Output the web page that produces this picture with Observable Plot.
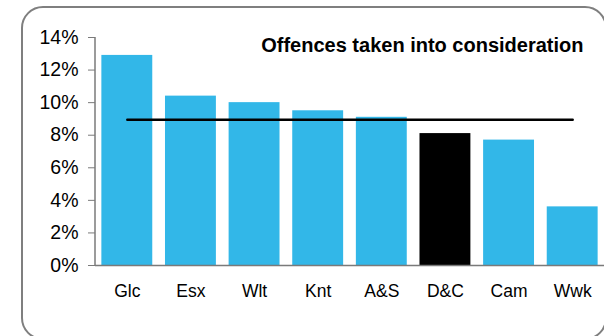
<!DOCTYPE html>
<html>
<head>
<meta charset="utf-8">
<script src="https://cdn.jsdelivr.net/npm/d3@7"></script>
<script src="https://cdn.jsdelivr.net/npm/@observablehq/plot@0.6"></script>
<style>
  html, body { margin: 0; padding: 0; background: #fff; overflow: hidden; }
  #wrap { position: relative; width: 604px; height: 336px; overflow: hidden; }
  #frame { position: absolute; left: 21px; top: 6px; width: 586px; height: 334px;
           border: 2px solid #7f7f7f; border-radius: 22px; box-sizing: border-box; }
  #chart { position: absolute; left: 0; top: 0; }
</style>
</head>
<body>
<div id="wrap"><div id="frame"></div><div id="chart"></div></div>
<script>
const categories = ["Glc", "Esx", "Wlt", "Knt", "A&S", "D&C", "Cam", "Wwk"];
const values = [12.9, 10.4, 10.0, 9.5, 9.1, 8.1, 7.7, 3.6];
const highlighted = ["D&C"];
const average = 8.95;
const yTicks = [0, 2, 4, 6, 8, 10, 12, 14];
const title = "Offences taken into consideration";

const data = categories.map((c, i) => ({ cat: c, value: values[i], hi: highlighted.includes(c) }));
const avgData = categories.map(c => ({ cat: c, value: average }));

const font = "Liberation Sans, Arial, sans-serif";
const chart = Plot.plot({
  width: 604,
  height: 336,
  marginTop: 37,
  marginBottom: 71,
  marginLeft: 95,
  marginRight: 0,
  style: { fontFamily: font, background: "transparent", overflow: "visible" },
  x: { domain: categories, paddingInner: 0.2, paddingOuter: 0.1, round: false, label: null },
  y: { domain: [0, 14], label: null },
  marks: [
    Plot.barY(data, { x: "cat", y: "value", fill: d => d.hi ? "#000000" : "#32b7e8" }),
    Plot.ruleY([0], { stroke: "#7a7a7a", strokeWidth: 1.5 }),
    Plot.lineY(avgData, { x: "cat", y: "value", stroke: "#000", strokeWidth: 2.5 }),
    Plot.axisY({ ticks: yTicks, tickFormat: d => d + "%", tickSize: 7, tickPadding: 10,
                 stroke: "#7a7a7a", fontSize: 19.5, color: "#000", label: null }),
    Plot.axisX({ tickSize: 0, tickPadding: 19, fontSize: 17.5, label: null }),
    Plot.text([title], { frameAnchor: "top-right", dx: -21, dy: 8, lineAnchor: "middle",
                 textAnchor: "end", fontWeight: "bold", fontSize: 20, fill: "#000" })
  ]
});
// vertical y-axis line from the y scale
const ys = chart.scale("y");
const xs = chart.scale("x");
const x0 = xs.range[0];
d3.select(chart).append("line")
  .attr("x1", x0).attr("x2", x0)
  .attr("y1", ys.apply(14)).attr("y2", ys.apply(0))
  .attr("stroke", "#7a7a7a").attr("stroke-width", 1.5);
d3.select(chart).selectAll("text").attr("fill", "#000");
document.getElementById("chart").appendChild(chart);
</script>
</body>
</html>
